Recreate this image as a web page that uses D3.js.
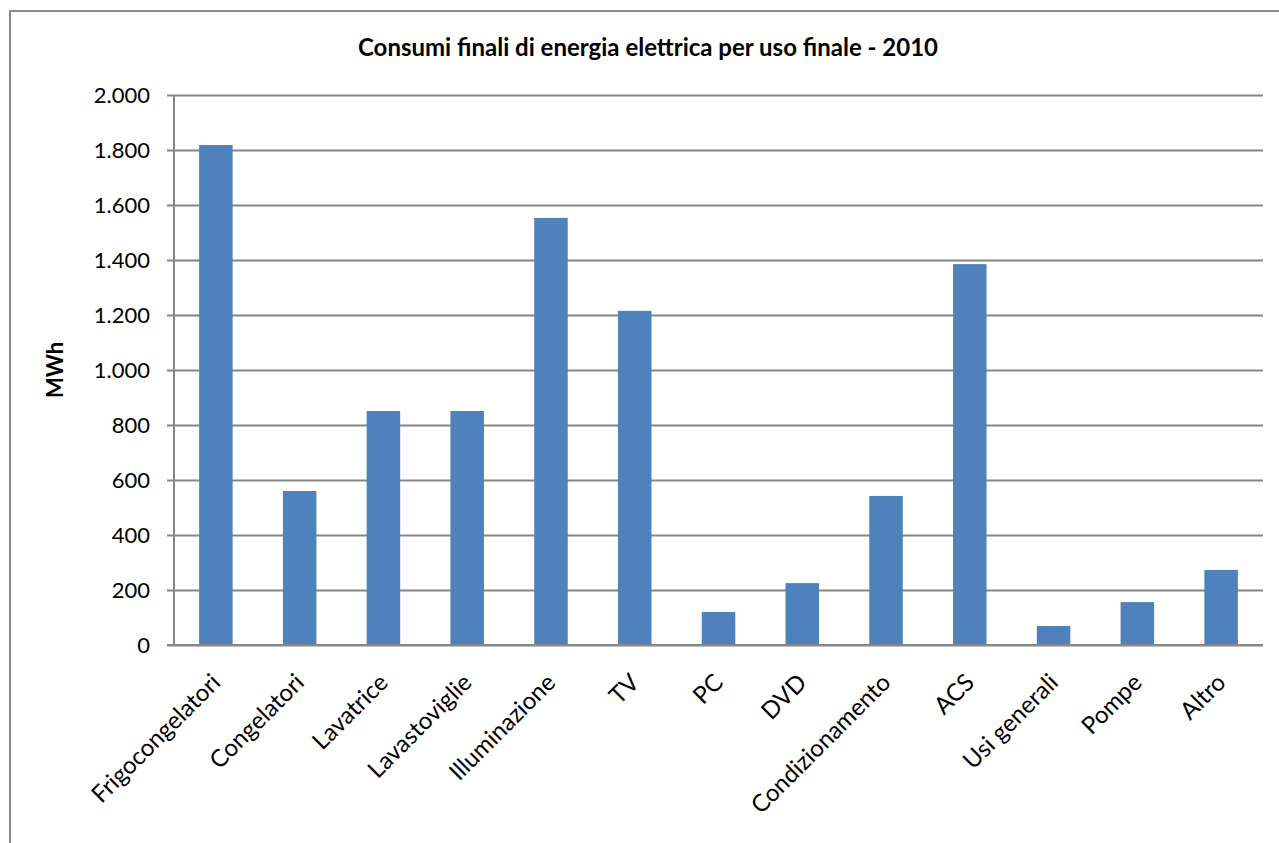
<!DOCTYPE html>
<html>
<head>
<meta charset="utf-8">
<script src="https://cdn.jsdelivr.net/npm/d3@7"></script>
<style>
  html, body { margin: 0; padding: 0; background: #fff; }
  svg { display: block; }
  text { font-family: Lato, "Open Sans", sans-serif; fill: #000; }
</style>
</head>
<body>
<svg id="chart" width="1279" height="843"></svg>
<script>
const categories = ["Frigocongelatori", "Congelatori", "Lavatrice", "Lavastoviglie", "Illuminazione", "TV", "PC", "DVD", "Condizionamento", "ACS", "Usi generali", "Pompe", "Altro"];
const values = [1818, 560, 851, 851, 1553, 1215, 120, 225, 542, 1385, 69, 156, 273];
const yTicks = [0, 200, 400, 600, 800, 1000, 1200, 1400, 1600, 1800, 2000];
const yTickLabels = ["0", "200", "400", "600", "800", "1.000", "1.200", "1.400", "1.600", "1.800", "2.000"];
const title = "Consumi finali di energia elettrica per uso finale - 2010";
const yTitle = "MWh";

const svg = d3.select("#chart");
const gridColor = "#868686";

// outer chart border
svg.append("rect")
  .attr("x", 10).attr("y", 11)
  .attr("width", 1400).attr("height", 1000)
  .attr("fill", "none").attr("stroke", "#8a8a8a").attr("stroke-width", 2);

const mLeft = 174, mRight = 1263, mTop = 95, mBottom = 645;

const x = d3.scaleBand().domain(categories).range([mLeft, mRight]).paddingInner(0.6).paddingOuter(0.3);
const y = d3.scaleLinear().domain([0, 2000]).range([mBottom, mTop]);

// gridlines + y ticks
const yAxis = d3.axisLeft(y).tickValues(yTicks)
  .tickFormat((d, i) => yTickLabels[i])
  .tickSize(-(mRight - mLeft)).tickSizeOuter(0).tickPadding(24);
const gy = svg.append("g").attr("transform", `translate(${mLeft},0)`).call(yAxis);
gy.select(".domain").remove();
gy.selectAll(".tick line").attr("stroke", gridColor).attr("stroke-width", 2).attr("x1", -7);
gy.selectAll(".tick text").style("font-size", "22px").attr("fill", "#000").attr("font-family", "Lato, 'Open Sans', sans-serif");

// bars
svg.append("g").selectAll("rect").data(values).join("rect")
  .attr("x", (d, i) => x(categories[i]))
  .attr("y", d => y(d))
  .attr("width", x.bandwidth())
  .attr("height", d => y(0) - y(d))
  .attr("fill", "#4F81BD");

// y axis line
svg.append("line").attr("x1", mLeft).attr("x2", mLeft).attr("y1", mTop).attr("y2", mBottom)
  .attr("stroke", gridColor).attr("stroke-width", 2);
// x axis line
svg.append("line").attr("x1", mLeft - 7).attr("x2", mRight).attr("y1", mBottom).attr("y2", mBottom)
  .attr("stroke", gridColor).attr("stroke-width", 2);

// x labels
const xAxis = d3.axisBottom(x).tickSize(0).tickPadding(0);
const gx = svg.append("g").attr("transform", `translate(0,${mBottom})`).call(xAxis);
gx.select(".domain").remove();
gx.selectAll(".tick text")
  .style("font-size", "24px")
  .attr("fill", "#000")
  .attr("font-family", "Lato, 'Open Sans', sans-serif")
  .attr("text-anchor", "end")
  .attr("dy", 0)
  .attr("transform", "translate(6,39) rotate(-45)");

// title
svg.append("text").attr("x", 648).attr("y", 56).attr("text-anchor", "middle")
  .style("font-size", "24px").style("font-weight", "bold").text(title);

// y title
svg.append("text").attr("transform", "translate(63,370) rotate(-90)").attr("text-anchor", "middle")
  .style("font-size", "22px").style("font-weight", "bold").text(yTitle);
</script>
</body>
</html>
